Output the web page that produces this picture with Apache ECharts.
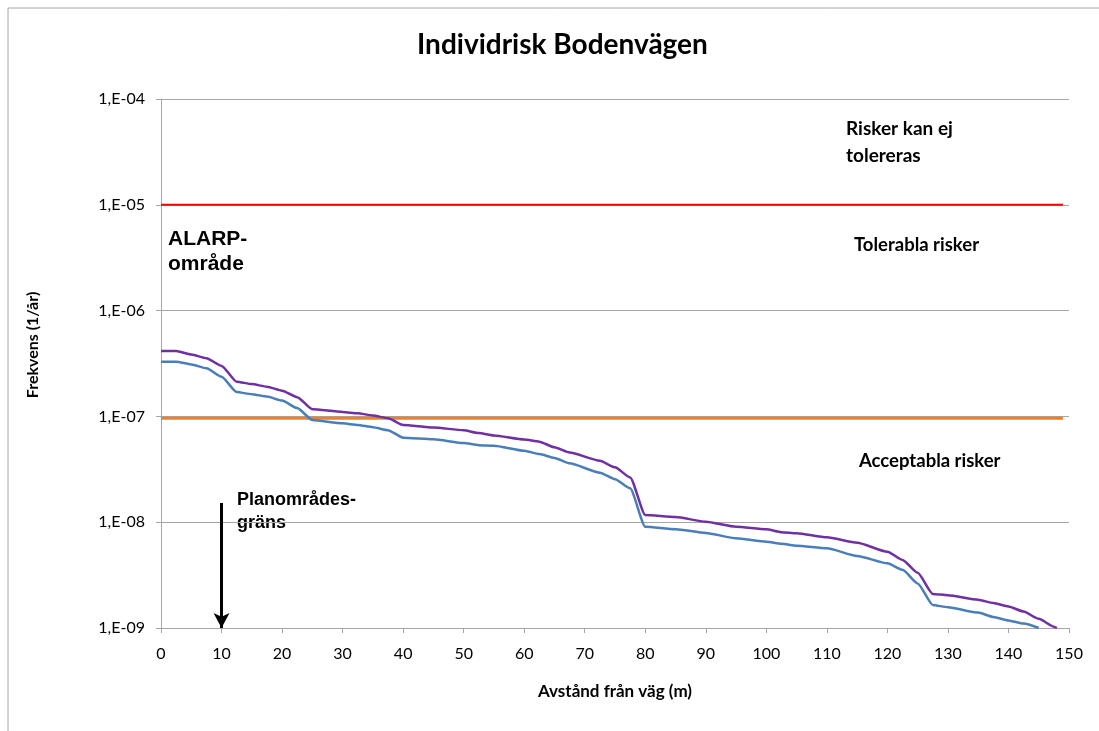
<!DOCTYPE html>
<html>
<head>
<meta charset="utf-8">
<script src="https://cdn.jsdelivr.net/npm/echarts@6/dist/echarts.min.js"></script>
<style>
html,body{margin:0;padding:0;background:#fff;}
#c{width:1099px;height:731px;}
</style>
</head>
<body>
<div id="c"></div>
<script>
// Distance from road (m)
const distances = [0, 2.5, 5, 7.5, 10, 12.5, 15, 17.5, 20, 22.5, 25, 30, 32.5, 35, 37.5, 40, 45, 50, 52.5, 55, 60, 62.5, 65, 67.5, 72.5, 75, 77.5, 80, 85, 90, 95, 100, 102.5, 105, 110, 115, 120, 122.5, 125, 127.5, 130, 135, 137.5, 140, 142.5, 145, 147.5, 148];
// Upper curve (purple)
const riskPurple = [4.15e-7, 4.15e-7, 3.85e-7, 3.55e-7, 3.0e-7, 2.13e-7, 2.02e-7, 1.91e-7, 1.75e-7, 1.52e-7, 1.17e-7, 1.10e-7, 1.07e-7, 1.02e-7, 9.6e-8, 8.3e-8, 7.85e-8, 7.4e-8, 6.95e-8, 6.6e-8, 6.05e-8, 5.77e-8, 5.1e-8, 4.55e-8, 3.81e-8, 3.3e-8, 2.65e-8, 1.17e-8, 1.12e-8, 1.01e-8, 9.06e-9, 8.57e-9, 8.05e-9, 7.86e-9, 7.2e-9, 6.4e-9, 5.26e-9, 4.4e-9, 3.33e-9, 2.1e-9, 2.04e-9, 1.85e-9, 1.72e-9, 1.6e-9, 1.43e-9, 1.22e-9, 1.03e-9, 1.0e-9];
// Lower curve (blue)
const riskBlue = [3.29e-7, 3.29e-7, 3.1e-7, 2.85e-7, 2.37e-7, 1.70e-7, 1.62e-7, 1.54e-7, 1.41e-7, 1.2e-7, 9.25e-8, 8.6e-8, 8.3e-8, 7.9e-8, 7.4e-8, 6.3e-8, 6.08e-8, 5.6e-8, 5.35e-8, 5.29e-8, 4.74e-8, 4.4e-8, 4.05e-8, 3.6e-8, 2.94e-8, 2.55e-8, 2.09e-8, 9.06e-9, 8.6e-9, 7.9e-9, 7.05e-9, 6.55e-9, 6.25e-9, 6.0e-9, 5.67e-9, 4.8e-9, 4.09e-9, 3.55e-9, 2.64e-9, 1.65e-9, 1.57e-9, 1.4e-9, 1.27e-9, 1.18e-9, 1.1e-9, 1.0e-9, null, null];
// Criteria lines
const criteriaX = [0, 149];
const upperLimit = [1e-5, 1e-5];
const lowerLimit = [9.6e-8, 9.6e-8];
// Planområdesgräns arrow
const arrowX = [10, 10];
const arrowY = [1.52e-8, 1e-9];

const xTicks = {min: 0, max: 150, interval: 10};
const yRange = {min: 1e-9, max: 1e-4};

const zip = (xs, ys) => xs.map((x, i) => [x, ys[i]]);

const chart = echarts.init(document.getElementById('c'), null, {renderer: 'canvas'});
const calibri = 'Lato, "Open Sans", sans-serif';
const arial = '"Liberation Sans", Arial, sans-serif';

chart.setOption({
  animation: false,
  backgroundColor: '#ffffff',
  title: {
    text: 'Individrisk Bodenvägen',
    left: 412,
    top: 26,
    textStyle: {fontFamily: calibri, fontWeight: 'bold', fontSize: 28, color: '#000'}
  },
  grid: {left: 161, top: 99, width: 908, height: 529},
  xAxis: {
    type: 'value',
    min: xTicks.min, max: xTicks.max, interval: xTicks.interval,
    name: 'Avstånd från väg (m)',
    nameLocation: 'middle',
    nameGap: 55,
    nameTextStyle: {fontFamily: calibri, fontWeight: 'bold', fontSize: 17, color: '#000'},
    axisLine: {lineStyle: {color: '#a6a6a6', width: 1}},
    axisTick: {show: true, inside: false, length: 5, lineStyle: {color: '#a6a6a6'}},
    axisLabel: {fontFamily: calibri, fontSize: 16, color: '#000', margin: 18},
    splitLine: {show: false}
  },
  yAxis: {
    type: 'log',
    logBase: 10,
    min: yRange.min, max: yRange.max,
    axisLine: {show: true, lineStyle: {color: '#a6a6a6', width: 1}},
    axisTick: {show: true, inside: false, length: 5, lineStyle: {color: '#a6a6a6'}},
    axisLabel: {
      fontFamily: calibri, fontSize: 16, color: '#000', margin: 16,
      formatter: v => {
        const e = Math.round(-Math.log10(v));
        return '1,E-' + (e < 10 ? '0' + e : e);
      }
    },
    splitLine: {show: true, lineStyle: {color: '#a6a6a6', width: 1}},
    minorTick: {show: false}
  },
  series: [
    {
      type: 'line', name: 'Övre gräns',
      data: zip(criteriaX, upperLimit),
      symbol: 'none', lineStyle: {color: '#ff0000', width: 2}, silent: true, z: 3
    },
    {
      type: 'line', name: 'Nedre gräns',
      data: zip(criteriaX, lowerLimit),
      symbol: 'none', lineStyle: {color: '#f07f2a', width: 3}, silent: true, z: 3
    },
    {
      type: 'line', name: 'Lila',
      data: zip(distances, riskPurple),
      symbol: 'none', smooth: 0.2, smoothMonotone: 'x', connectNulls: false,
      lineStyle: {color: '#7030a0', width: 2.5}, z: 4
    },
    {
      type: 'line', name: 'Blå',
      data: zip(distances, riskBlue),
      symbol: 'none', smooth: 0.2, smoothMonotone: 'x', connectNulls: false,
      lineStyle: {color: '#4a7ebb', width: 2.5}, z: 4
    },
    {
      type: 'line', name: 'Planområdesgräns',
      data: zip(arrowX, arrowY),
      symbol: 'none',
      lineStyle: {color: 'transparent', width: 0},
      markLine: {
        silent: true,
        symbol: ['none', 'arrow'],
        symbolSize: [12, 15],
        label: {show: false},
        lineStyle: {color: '#000', width: 3, type: 'solid'},
        data: [[{coord: [arrowX[0], arrowY[0]]}, {coord: [arrowX[1], arrowY[1]]}]]
      },
      z: 5
    }
  ],
  graphic: [
    {type: 'line', shape: {x1: 8, y1: 8, x2: 1099, y2: 8}, style: {stroke: '#a6a6a6', lineWidth: 1}, silent: true},
    {type: 'line', shape: {x1: 8, y1: 8, x2: 8, y2: 731}, style: {stroke: '#a6a6a6', lineWidth: 1}, silent: true},
    {type: 'text', x: 33, y: 345, rotation: Math.PI / 2, style: {text: 'Frekvens (1/år)', align: 'center', verticalAlign: 'middle', fontFamily: calibri, fontWeight: 'bold', fontSize: 16, fill: '#000'}},
    {type: 'text', left: 846, top: 115, style: {text: 'Risker kan ej\ntolereras', fontFamily: calibri, fontWeight: 'bold', fontSize: 19, lineHeight: 27, fill: '#000'}},
    {type: 'text', left: 854, top: 236, style: {text: 'Tolerabla risker', fontFamily: calibri, fontWeight: 'bold', fontSize: 18.5, fill: '#000'}},
    {type: 'text', left: 859, top: 452, style: {text: 'Acceptabla risker', fontFamily: calibri, fontWeight: 'bold', fontSize: 18.5, fill: '#000'}},
    {type: 'text', left: 168, top: 227, style: {text: 'ALARP-\nområde', fontFamily: arial, fontWeight: 'bold', fontSize: 21, lineHeight: 25, fill: '#000'}},
    {type: 'text', left: 237, top: 489, style: {text: 'Planområdes-\ngräns', fontFamily: arial, fontWeight: 'bold', fontSize: 18, lineHeight: 23, fill: '#000'}}
  ]
});
</script>
</body>
</html>
